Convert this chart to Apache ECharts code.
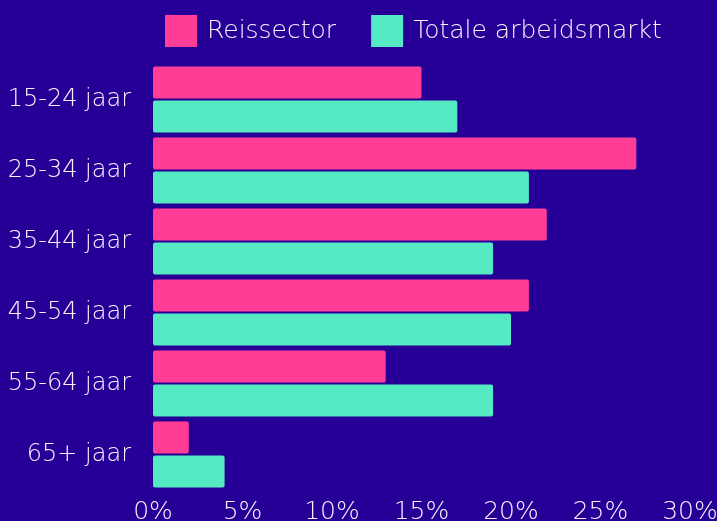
<!DOCTYPE html>
<html>
<head>
<meta charset="utf-8">
<script src="https://cdn.jsdelivr.net/npm/echarts@6/dist/echarts.min.js"></script>
<style>
  html, body { margin: 0; padding: 0; background: #260096; }
  #chart { width: 717px; height: 521px; }
</style>
</head>
<body>
<div id="chart"></div>
<script>
// leeftijdsgroepen, van boven naar beneden
const categories = ['15-24 jaar', '25-34 jaar', '35-44 jaar', '45-54 jaar', '55-64 jaar', '65+ jaar'];
const reissector = [15, 27, 22, 21, 13, 2];
const totaleArbeidsmarkt = [17, 21, 19, 20, 19, 4];
const xTicks = [0, 5, 10, 15, 20, 25, 30];

const chart = echarts.init(document.getElementById('chart'));
const textColor = '#f6f2ff';
const font = '"DejaVu Sans", sans-serif';

chart.setOption({
  backgroundColor: '#260096',
  animation: false,
  legend: {
    data: ['Reissector', 'Totale arbeidsmarkt'],
    left: 165,
    top: 15,
    padding: 0,
    itemWidth: 32,
    itemHeight: 32,
    itemGap: 35,
    icon: 'rect',
    textStyle: { color: textColor, fontSize: 25, fontFamily: font, fontWeight: 200, padding: [7, 0, 0, 5] }
  },
  grid: {
    left: 153,
    right: 27,
    top: 64,
    bottom: 31,
    containLabel: false,
    outerBoundsMode: 'none'
  },
  xAxis: {
    type: 'value',
    min: xTicks[0],
    max: xTicks[xTicks.length - 1],
    interval: 5,
    axisLine: { show: false },
    axisTick: { show: false },
    splitLine: { show: false },
    axisLabel: {
      color: textColor,
      fontSize: 25,
      fontFamily: font,
      fontWeight: 200,
      margin: 10,
      formatter: '{value}%'
    }
  },
  yAxis: {
    type: 'category',
    data: categories,
    inverse: true,
    axisLine: { show: false },
    axisTick: { show: false },
    axisLabel: {
      color: textColor,
      fontSize: 24,
      fontFamily: font,
      fontWeight: 200,
      margin: 22
    }
  },
  series: [
    {
      name: 'Reissector',
      type: 'bar',
      data: reissector,
      barWidth: 32,
      barGap: '6%',
      itemStyle: { color: '#ff3c96', borderRadius: 2 }
    },
    {
      name: 'Totale arbeidsmarkt',
      type: 'bar',
      data: totaleArbeidsmarkt,
      barWidth: 32,
      itemStyle: { color: '#55e9c4', borderRadius: 2 }
    }
  ]
});
</script>
</body>
</html>
